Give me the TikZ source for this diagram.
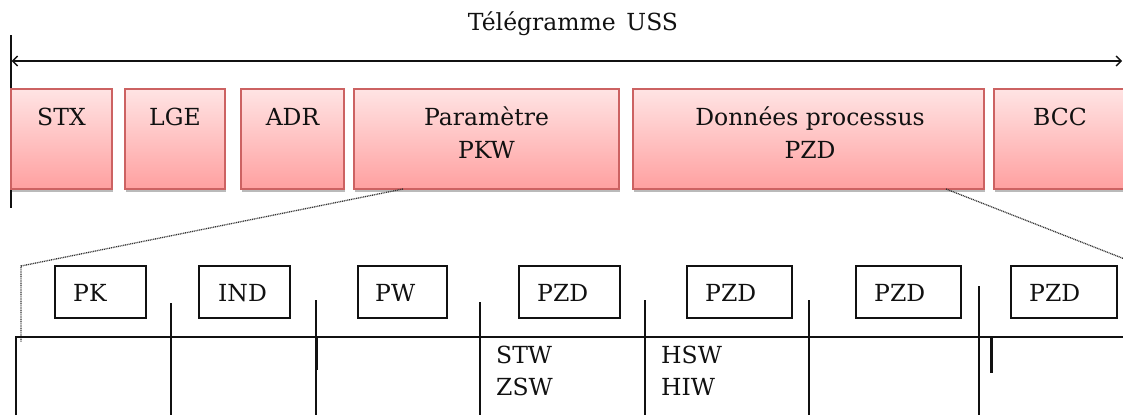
\documentclass[tikz,border=0pt]{standalone}
\usepackage{fontspec}
\setmainfont{DejaVu Serif}
\usetikzlibrary{arrows.meta,shadows,calc}
\definecolor{pinktop}{HTML}{FFE4E4}
\definecolor{pinkbot}{HTML}{FFA0A0}
\definecolor{pinkedge}{HTML}{CC6262}
\definecolor{ink}{HTML}{111111}
\begin{document}
\begin{tikzpicture}[x=1pt,y=-1pt,
  font=\fontsize{23.5}{28}\selectfont,
  field/.style={draw=pinkedge, line width=1.2pt, top color=pinktop, bottom color=pinkbot,
    drop shadow={shadow xshift=1pt, shadow yshift=-2.5pt, opacity=0.45, fill=black!60},
    minimum height=100pt, inner sep=0pt, outer sep=0pt, anchor=north west},
  word/.style={draw=ink, line width=1.3pt, fill=white, minimum height=52pt,
    inner sep=0pt, outer sep=0pt, anchor=north west},
  lbl/.style={anchor=base, inner sep=0pt, text=ink},
  lblw/.style={anchor=base west, inner sep=0pt, text=ink},
  rule/.style={draw=ink, line width=1.3pt},
  thick rule/.style={draw=ink, line width=2.6pt},
  zoomline/.style={draw=black!80, line width=1.3pt, dash pattern=on 1pt off 0.8pt},
  span/.style={draw=ink, line width=1.4pt, {Straight Barb[length=5pt,width=10pt]}-{Straight Barb[length=5pt,width=10pt]}}
]
\clip (0,0) rectangle (1123,415);

% telegram span
\coordinate (lt) at (11,35);
\coordinate (lb) at (11,208);
\coordinate (al) at (11.6,61);
\coordinate (ar) at (1122,61);
\draw[rule] (lt) -- (lb);
\draw[span] (al) -- (ar);
\node[lbl] (title) at (573,30) {Télégramme\hspace{0.45em}USS};

% telegram fields
\node[field, minimum width=101pt] (stx) at (11,89) {};
\node[field, minimum width=100pt] (lge) at (125,89) {};
\node[field, minimum width=103pt] (adr) at (241,89) {};
\node[field, minimum width=265pt] (pkw) at (354,89) {};
\node[field, minimum width=351pt] (pzd) at (633,89) {};
\node[field, minimum width=132pt] (bcc) at (994,89) {};

\node[lbl] (stx-t) at (61.5,125) {STX};
\node[lbl] (lge-t) at (175,125) {LGE};
\node[lbl] (adr-t) at (292.5,125) {ADR};
\node[lbl] (pkw-t1) at (486.5,125) {Paramètre};
\node[lbl] (pkw-t2) at (486.5,158) {PKW};
\node[lbl] (pzd-t1) at (810,125) {Données processus};
\node[lbl] (pzd-t2) at (810,158) {PZD};
\node[lbl] (bcc-t) at (1060,125) {BCC};

% zoom lines
\coordinate (zl) at (21,266);
\coordinate (zlb) at (21,342);
\coordinate (zr) at (1145,267);
\draw[zoomline] ($(pkw.south west)+(49,0)$) -- (zl) -- (zlb);
\draw[zoomline] ($(pzd.south west)+(313,0)$) -- (zr);

% words of the net data
\node[word, minimum width=91pt]  (w1) at (55,266) {};
\node[word, minimum width=91pt]  (w2) at (199,266) {};
\node[word, minimum width=89pt]  (w3) at (358,266) {};
\node[word, minimum width=101pt] (w4) at (519,266) {};
\node[word, minimum width=105pt] (w5) at (687,266) {};
\node[word, minimum width=105pt] (w6) at (856,266) {};
\node[word, minimum width=106pt] (w7) at (1011,266) {};

\node[lblw] (w1-t) at ($(w1.north west)+(18,35)$) {PK};
\node[lblw] (w2-t) at ($(w2.north west)+(19,35)$) {IND};
\node[lblw] (w3-t) at ($(w3.north west)+(17,35)$) {PW};
\node[lblw] (w4-t) at ($(w4.north west)+(18,35)$) {PZD};
\node[lblw] (w5-t) at ($(w5.north west)+(18,35)$) {PZD};
\node[lblw] (w6-t) at ($(w6.north west)+(18,35)$) {PZD};
\node[lblw] (w7-t) at ($(w7.north west)+(18,35)$) {PZD};

% frame below the words
\draw[rule] (16,415) -- (16,337) -- (1130,337);
\draw[rule] (171,303) -- (171,415);
\draw[rule] (316,300) -- (316,415);
\draw[rule] (480,302) -- (480,415);
\draw[rule] (645,300) -- (645,415);
\draw[rule] (809,300) -- (809,415);
\draw[rule] (979,286) -- (979,415);
\draw[thick rule] (316.5,337) -- (316.5,370);
\draw[thick rule] (979,337) -- (979,360);
\draw[thick rule] (991.5,337) -- (991.5,373);

\node[lblw] (stw) at (496,363) {STW};
\node[lblw] (zsw) at (496,395) {ZSW};
\node[lblw] (hsw) at (661,363) {HSW};
\node[lblw] (hiw) at (661,395) {HIW};
\end{tikzpicture}
\end{document}
